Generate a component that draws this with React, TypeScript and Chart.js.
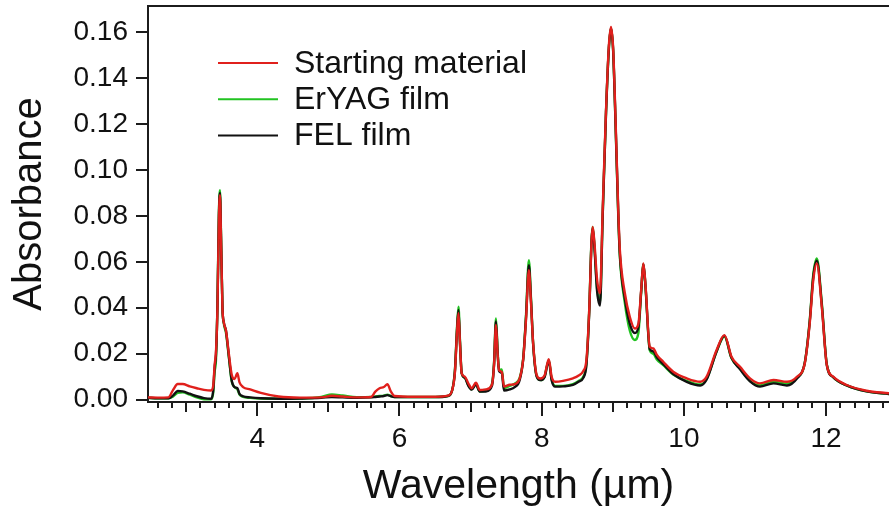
import React, { useEffect, useRef } from "react";
import { Chart, registerables } from "chart.js";

Chart.register(...registerables);

// Wavelength grid (µm)
const wavelengths = [
  2.46, 2.6, 2.75, 2.82, 2.88, 2.95, 3.05, 3.15, 3.25, 3.35, 3.38, 3.4, 3.42, 3.44, 3.46, 3.475, 3.49, 3.51, 3.53, 3.56,
  3.6, 3.64, 3.68, 3.72, 3.75, 3.8, 3.9, 4.05, 4.3, 4.6, 4.9, 5.05, 5.2, 5.4, 5.6, 5.66, 5.72, 5.78, 5.83, 5.88,
  5.93, 6.2, 6.5, 6.68, 6.74, 6.78, 6.81, 6.83, 6.85, 6.875, 6.92, 6.97, 7.015, 7.075, 7.13, 7.22, 7.3, 7.33, 7.357, 7.38,
  7.4, 7.44, 7.47, 7.55, 7.62, 7.69, 7.74, 7.78, 7.82, 7.85, 7.88, 7.93, 7.98, 8.04, 8.1, 8.14, 8.19, 8.3, 8.44, 8.52,
  8.585, 8.63, 8.67, 8.7, 8.717, 8.74, 8.78, 8.82, 8.858, 8.905, 8.945, 8.975, 9.005, 9.035, 9.077, 9.1, 9.17, 9.24, 9.31, 9.36,
  9.4, 9.43, 9.46, 9.52, 9.57, 9.62, 9.71, 9.85, 10.04, 10.23, 10.32, 10.46, 10.57, 10.67, 10.79, 10.93, 11.07, 11.26, 11.45, 11.59,
  11.7, 11.77, 11.82, 11.87, 11.94, 12.01, 12.1, 12.29, 12.57, 12.885,
];

const startingMaterial = [
  0.001, 0.0009, 0.001, 0.0045, 0.0068, 0.0068, 0.0058, 0.005, 0.0043, 0.004, 0.006, 0.015, 0.0216, 0.04, 0.078, 0.089, 0.07, 0.04, 0.0335, 0.03,
  0.02, 0.011, 0.009, 0.0115, 0.0075, 0.0055, 0.0045, 0.003, 0.0014, 0.0009, 0.001, 0.0017, 0.0014, 0.001, 0.0012, 0.0035, 0.005, 0.0055, 0.0067, 0.0035,
  0.0016, 0.0013, 0.0013, 0.0018, 0.004, 0.012, 0.03, 0.0376, 0.025, 0.0115, 0.01, 0.007, 0.005, 0.0074, 0.0042, 0.0045, 0.0065, 0.015, 0.0325, 0.02,
  0.0129, 0.012, 0.0057, 0.0065, 0.0068, 0.0092, 0.0175, 0.035, 0.0564, 0.042, 0.0245, 0.0107, 0.0092, 0.0105, 0.0176, 0.01, 0.0078, 0.0082, 0.0093, 0.0105,
  0.0125, 0.0175, 0.04, 0.068, 0.0752, 0.069, 0.052, 0.0463, 0.0825, 0.126, 0.154, 0.1622, 0.153, 0.126, 0.0825, 0.065, 0.0463, 0.036, 0.031, 0.033,
  0.048, 0.0593, 0.05, 0.023, 0.0223, 0.0195, 0.0165, 0.0122, 0.0093, 0.0078, 0.01, 0.0216, 0.0281, 0.0187, 0.0143, 0.0093, 0.0071, 0.0086, 0.0078, 0.01,
  0.0158, 0.0332, 0.052, 0.0593, 0.0404, 0.0151, 0.01, 0.0064, 0.0039, 0.0028,
];

const erYagFilm = [
  0.0008, 0.0006, 0.0006, 0.0015, 0.003, 0.0032, 0.0022, 0.001, 0.0002, 0.0002, 0.003, 0.012, 0.018, 0.042, 0.081, 0.0912, 0.072, 0.04, 0.033, 0.029,
  0.0185, 0.008, 0.0055, 0.0045, 0.0022, 0.0012, 0.0008, 0.0005, 0.0004, 0.0005, 0.0012, 0.0023, 0.0018, 0.0011, 0.0012, 0.0014, 0.0016, 0.0018, 0.0022, 0.0016,
  0.0012, 0.0012, 0.0012, 0.0016, 0.004, 0.013, 0.032, 0.0405, 0.0265, 0.0115, 0.0095, 0.0062, 0.0045, 0.0068, 0.0036, 0.004, 0.0068, 0.016, 0.0354, 0.0215,
  0.013, 0.0132, 0.005, 0.006, 0.007, 0.0095, 0.018, 0.037, 0.0607, 0.044, 0.0245, 0.0102, 0.0085, 0.01, 0.0172, 0.009, 0.006, 0.006, 0.0068, 0.0082,
  0.01, 0.016, 0.04, 0.069, 0.0752, 0.068, 0.048, 0.042, 0.08, 0.125, 0.153, 0.1615, 0.152, 0.124, 0.08, 0.062, 0.042, 0.03, 0.026, 0.029,
  0.047, 0.059, 0.049, 0.0215, 0.02, 0.0175, 0.015, 0.011, 0.0082, 0.0066, 0.009, 0.021, 0.0275, 0.018, 0.0135, 0.0082, 0.0062, 0.0078, 0.007, 0.0095,
  0.016, 0.0345, 0.0545, 0.0615, 0.042, 0.0155, 0.0098, 0.0062, 0.0036, 0.0025,
];

const felFilm = [
  0.0008, 0.0006, 0.0006, 0.002, 0.0038, 0.0036, 0.0026, 0.0015, 0.0007, 0.0004, 0.004, 0.014, 0.02, 0.041, 0.08, 0.09, 0.071, 0.04, 0.0335, 0.03,
  0.019, 0.0085, 0.0055, 0.005, 0.0025, 0.0015, 0.001, 0.0006, 0.0004, 0.0005, 0.0008, 0.0012, 0.001, 0.0008, 0.001, 0.0012, 0.0014, 0.0016, 0.002, 0.0015,
  0.0012, 0.0011, 0.0011, 0.0016, 0.004, 0.0125, 0.031, 0.039, 0.0255, 0.0115, 0.0095, 0.006, 0.0044, 0.0066, 0.0035, 0.0036, 0.006, 0.0155, 0.034, 0.0205,
  0.0125, 0.0115, 0.004, 0.0045, 0.0055, 0.0085, 0.0175, 0.036, 0.0585, 0.043, 0.024, 0.01, 0.0085, 0.0098, 0.017, 0.0085, 0.0057, 0.0058, 0.0064, 0.0078,
  0.0095, 0.0155, 0.039, 0.068, 0.0745, 0.067, 0.047, 0.041, 0.08, 0.125, 0.153, 0.1618, 0.152, 0.1245, 0.081, 0.063, 0.044, 0.033, 0.029, 0.0315,
  0.0475, 0.059, 0.0495, 0.022, 0.021, 0.0185, 0.0155, 0.0112, 0.0078, 0.0062, 0.0088, 0.021, 0.0278, 0.0182, 0.0132, 0.008, 0.0057, 0.0071, 0.0062, 0.0092,
  0.016, 0.034, 0.0535, 0.0605, 0.0412, 0.0152, 0.0098, 0.0062, 0.0036, 0.0025,
];

const seriesNames = ["Starting material", "ErYAG film", "FEL film"];
const seriesColors = ["#e0201c", "#22c322", "#111111"];
const xLabelValues = [4, 6, 8, 10, 12];
const yTickStep = 0.02;

const FONT = "'Liberation Sans', Arial, Helvetica, sans-serif";

function toPoints(values: number[]) {
  return wavelengths.map((x, i) => ({ x, y: values[i] }));
}

const decorPlugin = {
  id: "decor",
  afterDraw(chart: any) {
    const { ctx, chartArea, scales } = chart;
    const xs = scales.x;
    const ys = scales.y;
    ctx.save();
    ctx.strokeStyle = "#1c1c1c";
    ctx.lineWidth = 2;
    // top frame line
    ctx.beginPath();
    ctx.moveTo(chartArea.left - 1, chartArea.top);
    ctx.lineTo(chartArea.right, chartArea.top);
    ctx.stroke();
    // x tick marks
    for (const t of xs.ticks) {
      const v = t.value;
      const r = Math.round(v);
      let len = 6;
      if (Math.abs(v - r) < 1e-6) len = r % 2 === 0 ? 14 : 10;
      const px = Math.round(xs.getPixelForValue(v));
      ctx.beginPath();
      ctx.moveTo(px, chartArea.bottom);
      ctx.lineTo(px, chartArea.bottom + len);
      ctx.stroke();
    }
    // y tick marks
    for (const t of ys.ticks) {
      const py = Math.round(ys.getPixelForValue(t.value));
      ctx.beginPath();
      ctx.moveTo(chartArea.left - 12, py);
      ctx.lineTo(chartArea.left, py);
      ctx.stroke();
    }
    // legend
    const lx0 = chartArea.left + 70;
    const lx1 = chartArea.left + 130;
    const tx = chartArea.left + 146;
    const y0 = chartArea.top + 57;
    const dy = 36.3;
    ctx.font = `32px ${FONT}`;
    ctx.textBaseline = "middle";
    ctx.textAlign = "left";
    seriesNames.forEach((name, i) => {
      const y = y0 + i * dy;
      ctx.strokeStyle = seriesColors[i];
      ctx.lineWidth = 2;
      ctx.beginPath();
      ctx.moveTo(lx0, y);
      ctx.lineTo(lx1, y);
      ctx.stroke();
      ctx.fillStyle = "#111";
      ctx.fillText(name, tx, y + 1);
    });
    ctx.restore();
  },
};

export default function App() {
  const ref = useRef<HTMLCanvasElement | null>(null);
  useEffect(() => {
    document.body.style.margin = "0";
    const canvas = ref.current;
    if (!canvas) return;
    const chart = new Chart(canvas, {
      type: "line",
      data: {
        datasets: [
          { label: seriesNames[0], data: toPoints(startingMaterial), borderColor: seriesColors[0], order: 0 },
          { label: seriesNames[2], data: toPoints(felFilm), borderColor: seriesColors[2], order: 1 },
          { label: seriesNames[1], data: toPoints(erYagFilm), borderColor: seriesColors[1], order: 2 },
        ].map((d) => ({
          ...d,
          borderWidth: 2.4,
          pointRadius: 0,
          fill: false,
          cubicInterpolationMode: "monotone" as const,
        })),
      },
      options: {
        animation: false,
        responsive: false,
        devicePixelRatio: 1,
        layout: { padding: { top: 6, right: 0, bottom: 0, left: 0 } },
        plugins: { legend: { display: false }, tooltip: { enabled: false } },
        events: [],
        scales: {
          x: {
            type: "linear",
            min: 2.463,
            max: 12.885,
            grid: { display: false, drawTicks: false },
            border: { display: true, color: "#1c1c1c", width: 2 },
            ticks: {
              stepSize: 0.2,
              includeBounds: false,
              autoSkip: false,
              maxRotation: 0,
              padding: 20,
              color: "#111",
              font: { family: FONT, size: 28 },
              callback: (v: any) => {
                const n = Number(v);
                const r = Math.round(n);
                return Math.abs(n - r) < 1e-6 && xLabelValues.includes(r) ? String(r) : "";
              },
            },
            title: {
              display: true,
              text: "Wavelength (µm)",
              color: "#111",
              font: { family: FONT, size: 41, lineHeight: 1 },
              padding: { top: 0, bottom: 0 },
            },
            afterFit: (s: any) => {
              s.height = 105;
              s.paddingLeft = 0;
              s.paddingRight = 0;
            },
          },
          y: {
            type: "linear",
            min: -0.001,
            max: 0.1713,
            grid: { display: false, drawTicks: false },
            border: { display: true, color: "#1c1c1c", width: 2 },
            ticks: {
              stepSize: yTickStep,
              includeBounds: false,
              padding: 20,
              color: "#111",
              font: { family: FONT, size: 28 },
              callback: (v: any) => Number(v).toFixed(2),
            },
            title: {
              display: true,
              text: "Absorbance",
              color: "#111",
              font: { family: FONT, size: 40, lineHeight: 1 },
              padding: { top: 10, bottom: 0 },
            },
            afterFit: (s: any) => {
              s.width = 148;
              s.paddingTop = 0;
              s.paddingBottom = 0;
            },
          },
        },
      },
      plugins: [decorPlugin],
    });
    return () => chart.destroy();
  }, []);
  return (
    <div style={{ width: 889, height: 507, overflow: "hidden", background: "#fff" }}>
      <canvas ref={ref} width={889} height={507} style={{ display: "block" }} />
    </div>
  );
}
